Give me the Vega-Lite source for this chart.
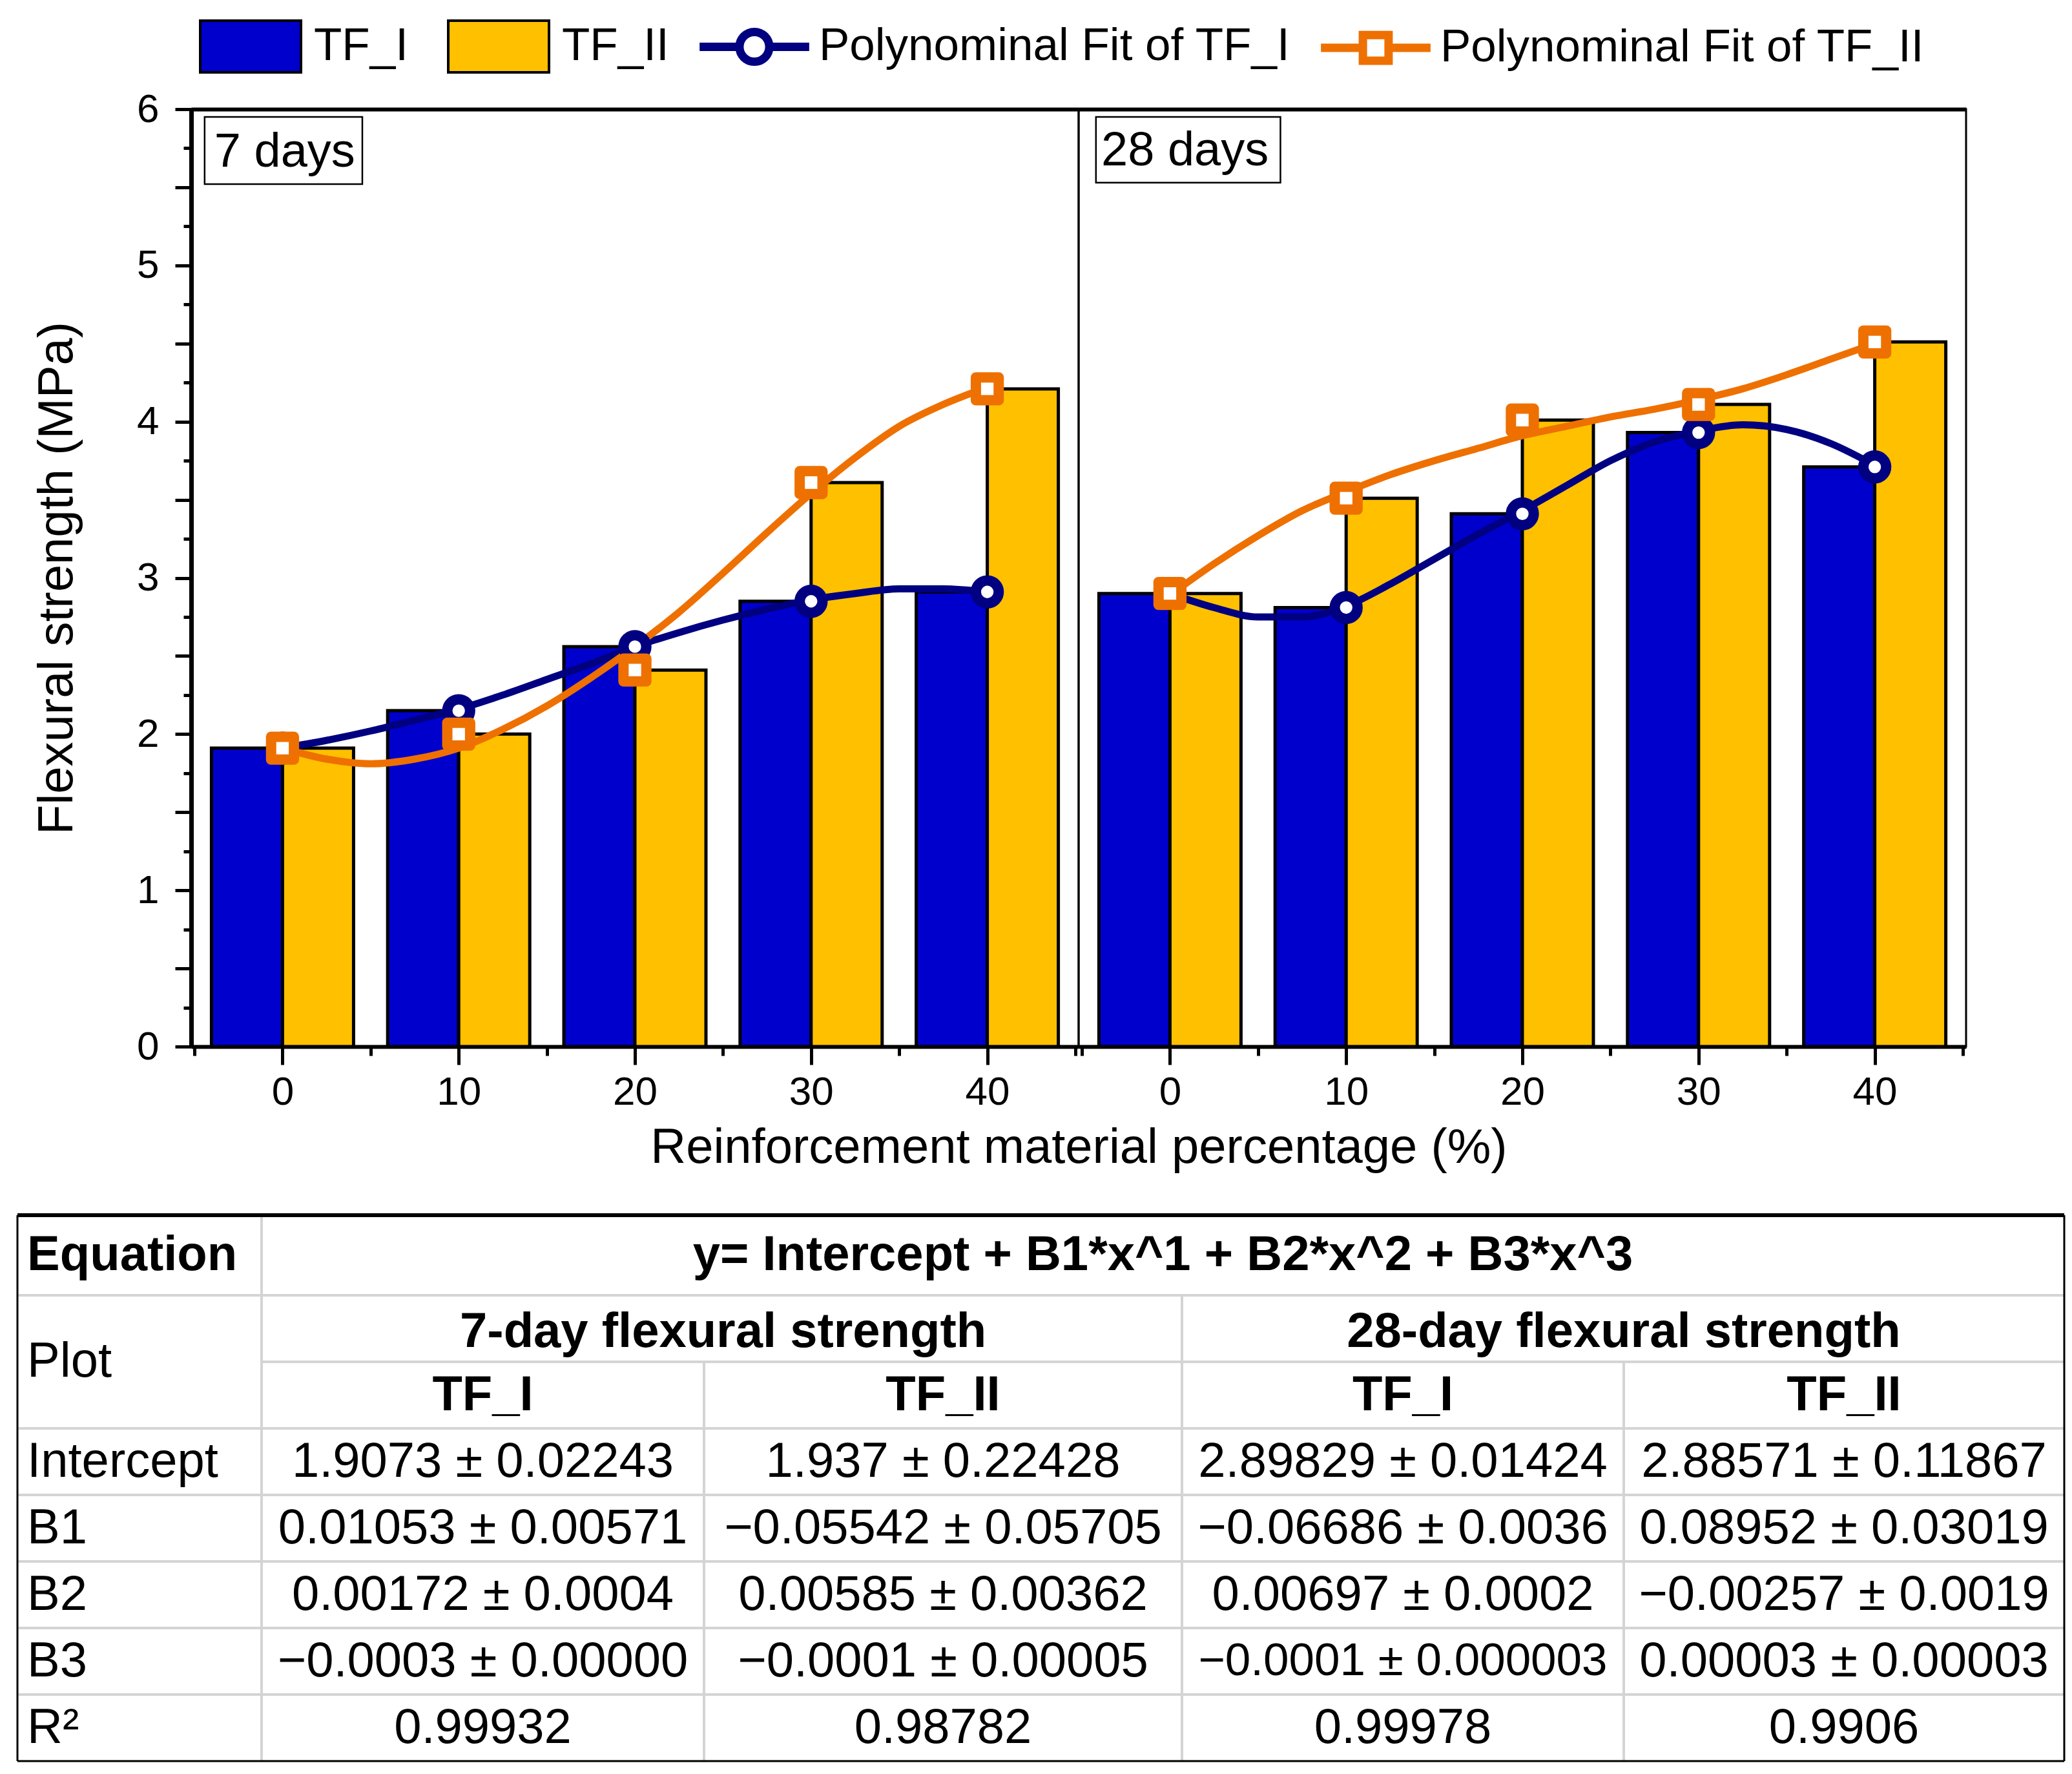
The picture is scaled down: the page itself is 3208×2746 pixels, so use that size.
{
  "$schema": "https://vega.github.io/schema/vega-lite/v6.json",
  "background": "white",
  "padding": {"left": 24, "right": 12, "top": 16, "bottom": 17},
  "datasets": {
    "bars": [
      {"age": "7 days", "pct": 0, "series": "TF_I", "value": 1.91},
      {"age": "7 days", "pct": 10, "series": "TF_I", "value": 2.15},
      {"age": "7 days", "pct": 20, "series": "TF_I", "value": 2.56},
      {"age": "7 days", "pct": 30, "series": "TF_I", "value": 2.85},
      {"age": "7 days", "pct": 40, "series": "TF_I", "value": 2.91},
      {"age": "7 days", "pct": 0, "series": "TF_II", "value": 1.91},
      {"age": "7 days", "pct": 10, "series": "TF_II", "value": 2.0},
      {"age": "7 days", "pct": 20, "series": "TF_II", "value": 2.41},
      {"age": "7 days", "pct": 30, "series": "TF_II", "value": 3.61},
      {"age": "7 days", "pct": 40, "series": "TF_II", "value": 4.21},
      {"age": "28 days", "pct": 0, "series": "TF_I", "value": 2.9},
      {"age": "28 days", "pct": 10, "series": "TF_I", "value": 2.81},
      {"age": "28 days", "pct": 20, "series": "TF_I", "value": 3.41},
      {"age": "28 days", "pct": 30, "series": "TF_I", "value": 3.93},
      {"age": "28 days", "pct": 40, "series": "TF_I", "value": 3.71},
      {"age": "28 days", "pct": 0, "series": "TF_II", "value": 2.9},
      {"age": "28 days", "pct": 10, "series": "TF_II", "value": 3.51},
      {"age": "28 days", "pct": 20, "series": "TF_II", "value": 4.01},
      {"age": "28 days", "pct": 30, "series": "TF_II", "value": 4.11},
      {"age": "28 days", "pct": 40, "series": "TF_II", "value": 4.51}
    ],
    "curves": [
      {"age": "7 days", "fit": "Polynominal Fit of TF_I", "pct": 0, "value": 1.91},
      {"age": "7 days", "fit": "Polynominal Fit of TF_I", "pct": 2.5, "value": 1.96},
      {"age": "7 days", "fit": "Polynominal Fit of TF_I", "pct": 5, "value": 2.02},
      {"age": "7 days", "fit": "Polynominal Fit of TF_I", "pct": 7.5, "value": 2.09},
      {"age": "7 days", "fit": "Polynominal Fit of TF_I", "pct": 10, "value": 2.16},
      {"age": "7 days", "fit": "Polynominal Fit of TF_I", "pct": 12.5, "value": 2.25},
      {"age": "7 days", "fit": "Polynominal Fit of TF_I", "pct": 15, "value": 2.35},
      {"age": "7 days", "fit": "Polynominal Fit of TF_I", "pct": 17.5, "value": 2.45},
      {"age": "7 days", "fit": "Polynominal Fit of TF_I", "pct": 20, "value": 2.56},
      {"age": "7 days", "fit": "Polynominal Fit of TF_I", "pct": 22.5, "value": 2.65},
      {"age": "7 days", "fit": "Polynominal Fit of TF_I", "pct": 25, "value": 2.73},
      {"age": "7 days", "fit": "Polynominal Fit of TF_I", "pct": 27.5, "value": 2.8},
      {"age": "7 days", "fit": "Polynominal Fit of TF_I", "pct": 30, "value": 2.86},
      {"age": "7 days", "fit": "Polynominal Fit of TF_I", "pct": 32.5, "value": 2.9},
      {"age": "7 days", "fit": "Polynominal Fit of TF_I", "pct": 35, "value": 2.93},
      {"age": "7 days", "fit": "Polynominal Fit of TF_I", "pct": 37.5, "value": 2.93},
      {"age": "7 days", "fit": "Polynominal Fit of TF_I", "pct": 40, "value": 2.91},
      {"age": "7 days", "fit": "Polynominal Fit of TF_II", "pct": 0, "value": 1.91},
      {"age": "7 days", "fit": "Polynominal Fit of TF_II", "pct": 2.5, "value": 1.84},
      {"age": "7 days", "fit": "Polynominal Fit of TF_II", "pct": 5, "value": 1.81},
      {"age": "7 days", "fit": "Polynominal Fit of TF_II", "pct": 7.5, "value": 1.84},
      {"age": "7 days", "fit": "Polynominal Fit of TF_II", "pct": 10, "value": 1.91},
      {"age": "7 days", "fit": "Polynominal Fit of TF_II", "pct": 12.5, "value": 2.03},
      {"age": "7 days", "fit": "Polynominal Fit of TF_II", "pct": 15, "value": 2.18},
      {"age": "7 days", "fit": "Polynominal Fit of TF_II", "pct": 17.5, "value": 2.36},
      {"age": "7 days", "fit": "Polynominal Fit of TF_II", "pct": 20, "value": 2.56},
      {"age": "7 days", "fit": "Polynominal Fit of TF_II", "pct": 22.5, "value": 2.78},
      {"age": "7 days", "fit": "Polynominal Fit of TF_II", "pct": 25, "value": 3.03},
      {"age": "7 days", "fit": "Polynominal Fit of TF_II", "pct": 27.5, "value": 3.29},
      {"age": "7 days", "fit": "Polynominal Fit of TF_II", "pct": 30, "value": 3.54},
      {"age": "7 days", "fit": "Polynominal Fit of TF_II", "pct": 32.5, "value": 3.77},
      {"age": "7 days", "fit": "Polynominal Fit of TF_II", "pct": 35, "value": 3.97},
      {"age": "7 days", "fit": "Polynominal Fit of TF_II", "pct": 37.5, "value": 4.11},
      {"age": "7 days", "fit": "Polynominal Fit of TF_II", "pct": 40, "value": 4.22},
      {"age": "28 days", "fit": "Polynominal Fit of TF_I", "pct": 0, "value": 2.9},
      {"age": "28 days", "fit": "Polynominal Fit of TF_I", "pct": 2.5, "value": 2.81},
      {"age": "28 days", "fit": "Polynominal Fit of TF_I", "pct": 5, "value": 2.75},
      {"age": "28 days", "fit": "Polynominal Fit of TF_I", "pct": 7.5, "value": 2.75},
      {"age": "28 days", "fit": "Polynominal Fit of TF_I", "pct": 10, "value": 2.82},
      {"age": "28 days", "fit": "Polynominal Fit of TF_I", "pct": 12.5, "value": 2.96},
      {"age": "28 days", "fit": "Polynominal Fit of TF_I", "pct": 15, "value": 3.12},
      {"age": "28 days", "fit": "Polynominal Fit of TF_I", "pct": 17.5, "value": 3.28},
      {"age": "28 days", "fit": "Polynominal Fit of TF_I", "pct": 20, "value": 3.43},
      {"age": "28 days", "fit": "Polynominal Fit of TF_I", "pct": 22.5, "value": 3.59},
      {"age": "28 days", "fit": "Polynominal Fit of TF_I", "pct": 25, "value": 3.75},
      {"age": "28 days", "fit": "Polynominal Fit of TF_I", "pct": 27.5, "value": 3.87},
      {"age": "28 days", "fit": "Polynominal Fit of TF_I", "pct": 30, "value": 3.94},
      {"age": "28 days", "fit": "Polynominal Fit of TF_I", "pct": 32.5, "value": 3.98},
      {"age": "28 days", "fit": "Polynominal Fit of TF_I", "pct": 35, "value": 3.95},
      {"age": "28 days", "fit": "Polynominal Fit of TF_I", "pct": 37.5, "value": 3.86},
      {"age": "28 days", "fit": "Polynominal Fit of TF_I", "pct": 40, "value": 3.72},
      {"age": "28 days", "fit": "Polynominal Fit of TF_II", "pct": 0, "value": 2.89},
      {"age": "28 days", "fit": "Polynominal Fit of TF_II", "pct": 2.5, "value": 3.09},
      {"age": "28 days", "fit": "Polynominal Fit of TF_II", "pct": 5, "value": 3.27},
      {"age": "28 days", "fit": "Polynominal Fit of TF_II", "pct": 7.5, "value": 3.43},
      {"age": "28 days", "fit": "Polynominal Fit of TF_II", "pct": 10, "value": 3.55},
      {"age": "28 days", "fit": "Polynominal Fit of TF_II", "pct": 12.5, "value": 3.66},
      {"age": "28 days", "fit": "Polynominal Fit of TF_II", "pct": 15, "value": 3.75},
      {"age": "28 days", "fit": "Polynominal Fit of TF_II", "pct": 17.5, "value": 3.83},
      {"age": "28 days", "fit": "Polynominal Fit of TF_II", "pct": 20, "value": 3.91},
      {"age": "28 days", "fit": "Polynominal Fit of TF_II", "pct": 22.5, "value": 3.97},
      {"age": "28 days", "fit": "Polynominal Fit of TF_II", "pct": 25, "value": 4.03},
      {"age": "28 days", "fit": "Polynominal Fit of TF_II", "pct": 27.5, "value": 4.08},
      {"age": "28 days", "fit": "Polynominal Fit of TF_II", "pct": 30, "value": 4.14},
      {"age": "28 days", "fit": "Polynominal Fit of TF_II", "pct": 32.5, "value": 4.21},
      {"age": "28 days", "fit": "Polynominal Fit of TF_II", "pct": 35, "value": 4.3},
      {"age": "28 days", "fit": "Polynominal Fit of TF_II", "pct": 37.5, "value": 4.4},
      {"age": "28 days", "fit": "Polynominal Fit of TF_II", "pct": 40, "value": 4.5}
    ],
    "tableLines": [
      {"kind": "grid", "x0": 0, "x1": 5, "y0": 1, "y1": 1},
      {"kind": "grid", "x0": 1, "x1": 5, "y0": 2, "y1": 2},
      {"kind": "grid", "x0": 0, "x1": 5, "y0": 3, "y1": 3},
      {"kind": "grid", "x0": 0, "x1": 5, "y0": 4, "y1": 4},
      {"kind": "grid", "x0": 0, "x1": 5, "y0": 5, "y1": 5},
      {"kind": "grid", "x0": 0, "x1": 5, "y0": 6, "y1": 6},
      {"kind": "grid", "x0": 0, "x1": 5, "y0": 7, "y1": 7},
      {"kind": "grid", "x0": 1, "x1": 1, "y0": 0, "y1": 8},
      {"kind": "grid", "x0": 2, "x1": 2, "y0": 2, "y1": 8},
      {"kind": "grid", "x0": 3, "x1": 3, "y0": 1, "y1": 8},
      {"kind": "grid", "x0": 4, "x1": 4, "y0": 2, "y1": 8},
      {"kind": "border", "x0": 0, "x1": 0, "y0": 0, "y1": 8},
      {"kind": "border", "x0": 5, "x1": 5, "y0": 0, "y1": 8},
      {"kind": "border", "x0": 0, "x1": 5, "y0": 8, "y1": 8},
      {"kind": "top", "x0": 0, "x1": 5, "y0": 0, "y1": 0}
    ],
    "tableText": [
      {"kind": "headLeft", "row": 0.5, "text": "Equation"},
      {"kind": "head", "col": 2.96, "row": 0.5, "text": "y= Intercept + B1*x^1 + B2*x^2 + B3*x^3"},
      {"kind": "label", "row": 2, "text": "Plot"},
      {"kind": "head", "col": 2.04, "row": 1.55, "text": "7-day flexural strength"},
      {"kind": "head", "col": 4, "row": 1.55, "text": "28-day flexural strength"},
      {"kind": "head", "col": 1.5, "row": 2.5, "text": "TF_I"},
      {"kind": "head", "col": 2.5, "row": 2.5, "text": "TF_II"},
      {"kind": "head", "col": 3.5, "row": 2.5, "text": "TF_I"},
      {"kind": "head", "col": 4.5, "row": 2.5, "text": "TF_II"},
      {"kind": "label", "row": 3.5, "text": "Intercept"},
      {"kind": "label", "row": 4.5, "text": "B1"},
      {"kind": "label", "row": 5.5, "text": "B2"},
      {"kind": "label", "row": 6.5, "text": "B3"},
      {"kind": "label", "row": 7.5, "text": "R²"},
      {"kind": "cell", "col": 1.5, "row": 3.5, "text": "1.9073 ± 0.02243"},
      {"kind": "cell", "col": 2.5, "row": 3.5, "text": "1.937 ± 0.22428"},
      {"kind": "cell", "col": 3.5, "row": 3.5, "text": "2.89829 ± 0.01424"},
      {"kind": "cell", "col": 4.5, "row": 3.5, "text": "2.88571 ± 0.11867"},
      {"kind": "cell", "col": 1.5, "row": 4.5, "text": "0.01053 ± 0.00571"},
      {"kind": "cell", "col": 2.5, "row": 4.5, "text": "−0.05542 ± 0.05705"},
      {"kind": "cell", "col": 3.5, "row": 4.5, "text": "−0.06686 ± 0.0036"},
      {"kind": "cell", "col": 4.5, "row": 4.5, "text": "0.08952 ± 0.03019"},
      {"kind": "cell", "col": 1.5, "row": 5.5, "text": "0.00172 ± 0.0004"},
      {"kind": "cell", "col": 2.5, "row": 5.5, "text": "0.00585 ± 0.00362"},
      {"kind": "cell", "col": 3.5, "row": 5.5, "text": "0.00697 ± 0.0002"},
      {"kind": "cell", "col": 4.5, "row": 5.5, "text": "−0.00257 ± 0.0019"},
      {"kind": "cell", "col": 1.5, "row": 6.5, "text": "−0.0003 ± 0.00000"},
      {"kind": "cell", "col": 2.5, "row": 6.5, "text": "−0.0001 ± 0.00005"},
      {"kind": "cell", "col": 3.5, "row": 6.5, "text": "−0.0001 ± 0.000003"},
      {"kind": "cell", "col": 4.5, "row": 6.5, "text": "0.00003 ± 0.00003"},
      {"kind": "cell", "col": 1.5, "row": 7.5, "text": "0.99932"},
      {"kind": "cell", "col": 2.5, "row": 7.5, "text": "0.98782"},
      {"kind": "cell", "col": 3.5, "row": 7.5, "text": "0.99978"},
      {"kind": "cell", "col": 4.5, "row": 7.5, "text": "0.9906"}
    ]
  },
  "bounds": "flush",
  "columns": 2,
  "spacing": {"row": 261, "column": 0},
  "concat": [
    {
      "width": 1374,
      "height": 1451,
      "resolve": {"axis": {"x": "independent", "y": "independent"}},
      "layer": [
        {
          "data": {"name": "bars"},
          "transform": [{"filter": "datum.age == '7 days' && datum.series == 'TF_I'"}],
          "mark": {"type": "bar", "width": 110, "xOffset": -55, "stroke": "black", "strokeWidth": 5},
          "encoding": {
            "x": {"field": "pct", "type": "quantitative", "scale": {"domain": [-5, 45], "nice": false, "zero": false},
              "axis": {"orient": "bottom", "values": [0, 10, 20, 30, 40], "format": "d", "tickSize": 28, "labelPadding": 12, "title": "Reinforcement material percentage (%)", "titleX": 1374, "titleAlign": "center", "titlePadding": 18}},
            "y": {"field": "value", "type": "quantitative", "scale": {"domain": [0, 6], "nice": false},
              "axis": {"orient": "left", "values": [0, 0.5, 1, 1.5, 2, 2.5, 3, 3.5, 4, 4.5, 5, 5.5, 6], "labelExpr": "datum.value % 1 == 0 ? format(datum.value, 'd') : ''", "tickSize": 25, "labelPadding": 25, "domainWidth": 7, "labelOverlap": false, "labelFlush": false, "title": "Flexural strength (MPa)", "titlePadding": 84}},
            "fill": {"field": "series", "type": "nominal", "scale": {"domain": ["TF_I", "TF_II"], "range": ["#0000CC", "#FFC000"]},
              "legend": {"title": null, "orient": "top", "direction": "horizontal", "symbolType": "M-1.95,-1H1.95V1H-1.95Z", "symbolSize": 6400, "symbolStrokeColor": "black", "symbolStrokeWidth": 4, "symbolOffset": 36, "labelOffset": 56, "columnPadding": 54, "padding": 14, "offset": 0}}
          }
        },
        {
          "data": {"name": "bars"},
          "transform": [{"filter": "datum.age == '7 days' && datum.series == 'TF_II'"}],
          "mark": {"type": "bar", "width": 110, "xOffset": 55, "stroke": "black", "strokeWidth": 5},
          "encoding": {
            "x": {"field": "pct", "type": "quantitative", "axis": {"orient": "bottom", "values": [-5, 5, 15, 25, 35, 45], "labels": false, "domain": false, "tickSize": 14, "title": null}},
            "y": {"field": "value", "type": "quantitative", "axis": {"orient": "left", "values": [0.25, 0.75, 1.25, 1.75, 2.25, 2.75, 3.25, 3.75, 4.25, 4.75, 5.25, 5.75], "labels": false, "domain": false, "tickSize": 12, "title": null}},
            "fill": {"field": "series", "type": "nominal", "scale": {"domain": ["TF_I", "TF_II"], "range": ["#0000CC", "#FFC000"]},
              "legend": {"title": null, "orient": "top", "direction": "horizontal", "symbolType": "M-1.95,-1H1.95V1H-1.95Z", "symbolSize": 6400, "symbolStrokeColor": "black", "symbolStrokeWidth": 4, "symbolOffset": 36, "labelOffset": 56, "columnPadding": 54, "padding": 14, "offset": 0}}
          }
        },
        {
          "data": {"name": "curves"},
          "transform": [{"filter": "datum.age == '7 days'"}],
          "mark": {"type": "line", "interpolate": "monotone", "strokeWidth": 11, "strokeCap": "round"},
          "encoding": {
            "x": {"field": "pct", "type": "quantitative", "axis": {"orient": "top", "ticks": false, "labels": false, "domainWidth": 6, "title": null}},
            "y": {"field": "value", "type": "quantitative", "axis": null},
            "stroke": {"field": "fit", "type": "nominal", "scale": {"domain": ["Polynominal Fit of TF_I", "Polynominal Fit of TF_II"], "range": ["#000080", "#EE7000"]},
              "legend": {"title": null, "orient": "top", "direction": "horizontal", "symbolSize": 5041, "symbolStrokeWidth": 13, "symbolFillColor": "white", "symbolOffset": 43, "labelOffset": 58, "columnPadding": 21, "padding": 14, "offset": 0,
                "encode": {"symbols": {"update": {"fill": {"value": "white"}, "shape": {"signal": "datum.value == 'Polynominal Fit of TF_I' ? 'M-2.39,0H-0.65M0.65,0H2.39M0.65,0A0.65,0.65,0,1,1,-0.65,0A0.65,0.65,0,1,1,0.65,0Z' : 'M-2.39,0H-0.56M0.56,0H2.39M-0.56,-0.56H0.56V0.56H-0.56Z'"}}}}}}
          }
        },
        {
          "data": {"name": "bars"},
          "transform": [{"filter": "datum.age == '7 days' && datum.series == 'TF_I'"}],
          "mark": {"type": "point", "shape": "circle", "filled": true, "fill": "white", "stroke": "#000080", "opacity": 1, "size": 1250, "strokeWidth": 16},
          "encoding": {
            "x": {"field": "pct", "type": "quantitative", "axis": null},
            "y": {"field": "value", "type": "quantitative", "axis": null},
            "strokeWidth": {"value": 16}
          }
        },
        {
          "data": {"name": "bars"},
          "transform": [{"filter": "datum.age == '7 days' && datum.series == 'TF_II'"}],
          "mark": {"type": "point", "shape": "square", "filled": true, "fill": "white", "stroke": "#EE7000", "opacity": 1, "size": 1250, "strokeWidth": 16, "strokeJoin": "round"},
          "encoding": {
            "x": {"field": "pct", "type": "quantitative", "axis": null},
            "y": {"field": "value", "type": "quantitative", "axis": null},
            "strokeWidth": {"value": 16}
          }
        },
        {
          "data": {"values": [{"label": "7 days"}]},
          "mark": {"type": "rect", "fill": "white", "stroke": "black", "strokeWidth": 2.5},
          "encoding": {
            "x": {"datum": -4.42, "type": "quantitative", "axis": null},
            "x2": {"datum": 4.53},
            "y": {"datum": 5.95, "type": "quantitative", "axis": null},
            "y2": {"datum": 5.52}
          }
        },
        {
          "data": {"values": [{"label": "7 days"}]},
          "mark": {"type": "text", "align": "left", "baseline": "alphabetic", "font": "Liberation Sans", "fontSize": 74, "color": "black"},
          "encoding": {
            "x": {"datum": -3.87, "type": "quantitative", "axis": null},
            "y": {"datum": 5.63, "type": "quantitative", "axis": null},
            "text": {"field": "label"}
          }
        }
      ]
    },
    {
      "width": 1374,
      "height": 1451,
      "resolve": {"axis": {"x": "independent", "y": "independent"}},
      "layer": [
        {
          "data": {"name": "bars"},
          "transform": [{"filter": "datum.age == '28 days' && datum.series == 'TF_I'"}],
          "mark": {"type": "bar", "width": 110, "xOffset": -55, "stroke": "black", "strokeWidth": 5},
          "encoding": {
            "x": {"field": "pct", "type": "quantitative", "scale": {"domain": [-5, 45], "nice": false, "zero": false},
              "axis": {"orient": "bottom", "values": [0, 10, 20, 30, 40], "format": "d", "tickSize": 28, "labelPadding": 12, "title": null}},
            "y": {"field": "value", "type": "quantitative", "scale": {"domain": [0, 6], "nice": false}, "axis": null},
            "fill": {"field": "series", "type": "nominal", "scale": {"domain": ["TF_I", "TF_II"], "range": ["#0000CC", "#FFC000"]},
              "legend": {"title": null, "orient": "top", "direction": "horizontal", "symbolType": "M-1.95,-1H1.95V1H-1.95Z", "symbolSize": 6400, "symbolStrokeColor": "black", "symbolStrokeWidth": 4, "symbolOffset": 36, "labelOffset": 56, "columnPadding": 54, "padding": 14, "offset": 0}}
          }
        },
        {
          "data": {"name": "bars"},
          "transform": [{"filter": "datum.age == '28 days' && datum.series == 'TF_II'"}],
          "mark": {"type": "bar", "width": 110, "xOffset": 55, "stroke": "black", "strokeWidth": 5},
          "encoding": {
            "x": {"field": "pct", "type": "quantitative", "axis": {"orient": "bottom", "values": [-5, 5, 15, 25, 35, 45], "labels": false, "domain": false, "tickSize": 14, "title": null}},
            "y": {"field": "value", "type": "quantitative", "axis": null},
            "fill": {"field": "series", "type": "nominal", "scale": {"domain": ["TF_I", "TF_II"], "range": ["#0000CC", "#FFC000"]},
              "legend": {"title": null, "orient": "top", "direction": "horizontal", "symbolType": "M-1.95,-1H1.95V1H-1.95Z", "symbolSize": 6400, "symbolStrokeColor": "black", "symbolStrokeWidth": 4, "symbolOffset": 36, "labelOffset": 56, "columnPadding": 54, "padding": 14, "offset": 0}}
          }
        },
        {
          "data": {"name": "curves"},
          "transform": [{"filter": "datum.age == '28 days'"}],
          "mark": {"type": "line", "interpolate": "monotone", "strokeWidth": 11, "strokeCap": "round"},
          "encoding": {
            "x": {"field": "pct", "type": "quantitative", "axis": {"orient": "top", "ticks": false, "labels": false, "domainWidth": 6, "title": null}},
            "y": {"field": "value", "type": "quantitative", "axis": null},
            "stroke": {"field": "fit", "type": "nominal", "scale": {"domain": ["Polynominal Fit of TF_I", "Polynominal Fit of TF_II"], "range": ["#000080", "#EE7000"]},
              "legend": {"title": null, "orient": "top", "direction": "horizontal", "symbolSize": 5041, "symbolStrokeWidth": 13, "symbolFillColor": "white", "symbolOffset": 43, "labelOffset": 58, "columnPadding": 21, "padding": 14, "offset": 0,
                "encode": {"symbols": {"update": {"fill": {"value": "white"}, "shape": {"signal": "datum.value == 'Polynominal Fit of TF_I' ? 'M-2.39,0H-0.65M0.65,0H2.39M0.65,0A0.65,0.65,0,1,1,-0.65,0A0.65,0.65,0,1,1,0.65,0Z' : 'M-2.39,0H-0.56M0.56,0H2.39M-0.56,-0.56H0.56V0.56H-0.56Z'"}}}}}}
          }
        },
        {
          "data": {"name": "bars"},
          "transform": [{"filter": "datum.age == '28 days' && datum.series == 'TF_I'"}],
          "mark": {"type": "point", "shape": "circle", "filled": true, "fill": "white", "stroke": "#000080", "opacity": 1, "size": 1250, "strokeWidth": 16},
          "encoding": {
            "x": {"field": "pct", "type": "quantitative", "axis": null},
            "y": {"field": "value", "type": "quantitative", "axis": null},
            "strokeWidth": {"value": 16}
          }
        },
        {
          "data": {"name": "bars"},
          "transform": [{"filter": "datum.age == '28 days' && datum.series == 'TF_II'"}],
          "mark": {"type": "point", "shape": "square", "filled": true, "fill": "white", "stroke": "#EE7000", "opacity": 1, "size": 1250, "strokeWidth": 16, "strokeJoin": "round"},
          "encoding": {
            "x": {"field": "pct", "type": "quantitative", "axis": null},
            "y": {"field": "value", "type": "quantitative", "axis": null},
            "strokeWidth": {"value": 16}
          }
        },
        {
          "data": {"values": [{"label": "28 days"}]},
          "mark": {"type": "rect", "fill": "white", "stroke": "black", "strokeWidth": 2.5},
          "encoding": {
            "x": {"datum": -4.2, "type": "quantitative", "axis": null},
            "x2": {"datum": 6.27},
            "y": {"datum": 5.95, "type": "quantitative", "axis": null},
            "y2": {"datum": 5.53}
          }
        },
        {
          "data": {"values": [{"label": "28 days"}]},
          "mark": {"type": "text", "align": "left", "baseline": "alphabetic", "font": "Liberation Sans", "fontSize": 74, "color": "black"},
          "encoding": {
            "x": {"datum": -3.9, "type": "quantitative", "axis": null},
            "y": {"datum": 5.64, "type": "quantitative", "axis": null},
            "text": {"field": "label"}
          }
        }
      ]
    },
    {
      "width": 1374,
      "height": 845,
      "view": {"stroke": null},
      "layer": [
        {
          "data": {"name": "tableLines"},
          "transform": [{"filter": "datum.kind == 'grid'"}],
          "mark": {"type": "rule", "color": "#D4D4D4", "strokeWidth": 4},
          "encoding": {
            "x": {"field": "x0", "type": "quantitative", "scale": {"type": "linear", "domain": [0, 1, 2, 3, 4, 5], "range": [-269, 109, 794, 1534, 2218, 2900], "nice": false, "zero": false}, "axis": null},
            "x2": {"field": "x1"},
            "y": {"field": "y0", "type": "quantitative", "scale": {"type": "linear", "domain": [0, 1, 8], "range": [0, 124, 845], "nice": false, "zero": false}, "axis": null},
            "y2": {"field": "y1"}
          }
        },
        {
          "data": {"name": "tableLines"},
          "transform": [{"filter": "datum.kind == 'border'"}],
          "mark": {"type": "rule", "color": "black", "strokeWidth": 3},
          "encoding": {
            "x": {"field": "x0", "type": "quantitative", "axis": null},
            "x2": {"field": "x1"},
            "y": {"field": "y0", "type": "quantitative", "axis": null},
            "y2": {"field": "y1"}
          }
        },
        {
          "data": {"name": "tableLines"},
          "transform": [{"filter": "datum.kind == 'top'"}],
          "mark": {"type": "rule", "color": "black", "strokeWidth": 6},
          "encoding": {
            "x": {"field": "x0", "type": "quantitative", "axis": null},
            "x2": {"field": "x1"},
            "y": {"field": "y0", "type": "quantitative", "axis": null},
            "y2": {"field": "y1"}
          }
        },
        {
          "data": {"name": "tableText"},
          "transform": [{"filter": "datum.kind == 'label'"}],
          "mark": {"type": "text", "align": "left", "baseline": "middle", "font": "Liberation Sans", "fontSize": 76, "color": "black"},
          "encoding": {
            "x": {"datum": 0.04, "type": "quantitative", "axis": null},
            "y": {"field": "row", "type": "quantitative", "axis": null},
            "text": {"field": "text"}
          }
        },
        {
          "data": {"name": "tableText"},
          "transform": [{"filter": "datum.kind == 'headLeft'"}],
          "mark": {"type": "text", "align": "left", "baseline": "middle", "font": "Liberation Sans", "fontSize": 76, "fontWeight": "bold", "color": "black"},
          "encoding": {
            "x": {"datum": 0.04, "type": "quantitative", "axis": null},
            "y": {"field": "row", "type": "quantitative", "axis": null},
            "text": {"field": "text"}
          }
        },
        {
          "data": {"name": "tableText"},
          "transform": [{"filter": "datum.kind == 'head'"}],
          "mark": {"type": "text", "align": "center", "baseline": "middle", "font": "Liberation Sans", "fontSize": 76, "fontWeight": "bold", "color": "black"},
          "encoding": {
            "x": {"field": "col", "type": "quantitative", "axis": null},
            "y": {"field": "row", "type": "quantitative", "axis": null},
            "text": {"field": "text"}
          }
        },
        {
          "data": {"name": "tableText"},
          "transform": [{"filter": "datum.kind == 'cell'"}],
          "mark": {"type": "text", "align": "center", "baseline": "middle", "font": "Liberation Sans", "color": "black"},
          "encoding": {
            "x": {"field": "col", "type": "quantitative", "axis": null},
            "y": {"field": "row", "type": "quantitative", "axis": null},
            "text": {"field": "text"},
            "size": {"condition": {"test": "length(datum.text) > 17 && datum.col > 3", "value": 71}, "value": 76}
          }
        }
      ]
    }
  ],
  "config": {
    "font": "Liberation Sans",
    "view": {"stroke": "black", "strokeWidth": 3},
    "axis": {"labelFont": "Liberation Sans", "labelFontSize": 62, "labelColor": "black", "tickColor": "black", "domainColor": "black", "tickWidth": 5, "domainWidth": 6, "grid": false, "titleFont": "Liberation Sans", "titleColor": "black", "titleFontWeight": "normal", "titleFontSize": 76},
    "legend": {"labelFont": "Liberation Sans", "labelFontSize": 71, "labelColor": "black", "labelLimit": 2000, "layout": {"top": {"anchor": "start", "bounds": "flush", "margin": 19}}}
  }
}
